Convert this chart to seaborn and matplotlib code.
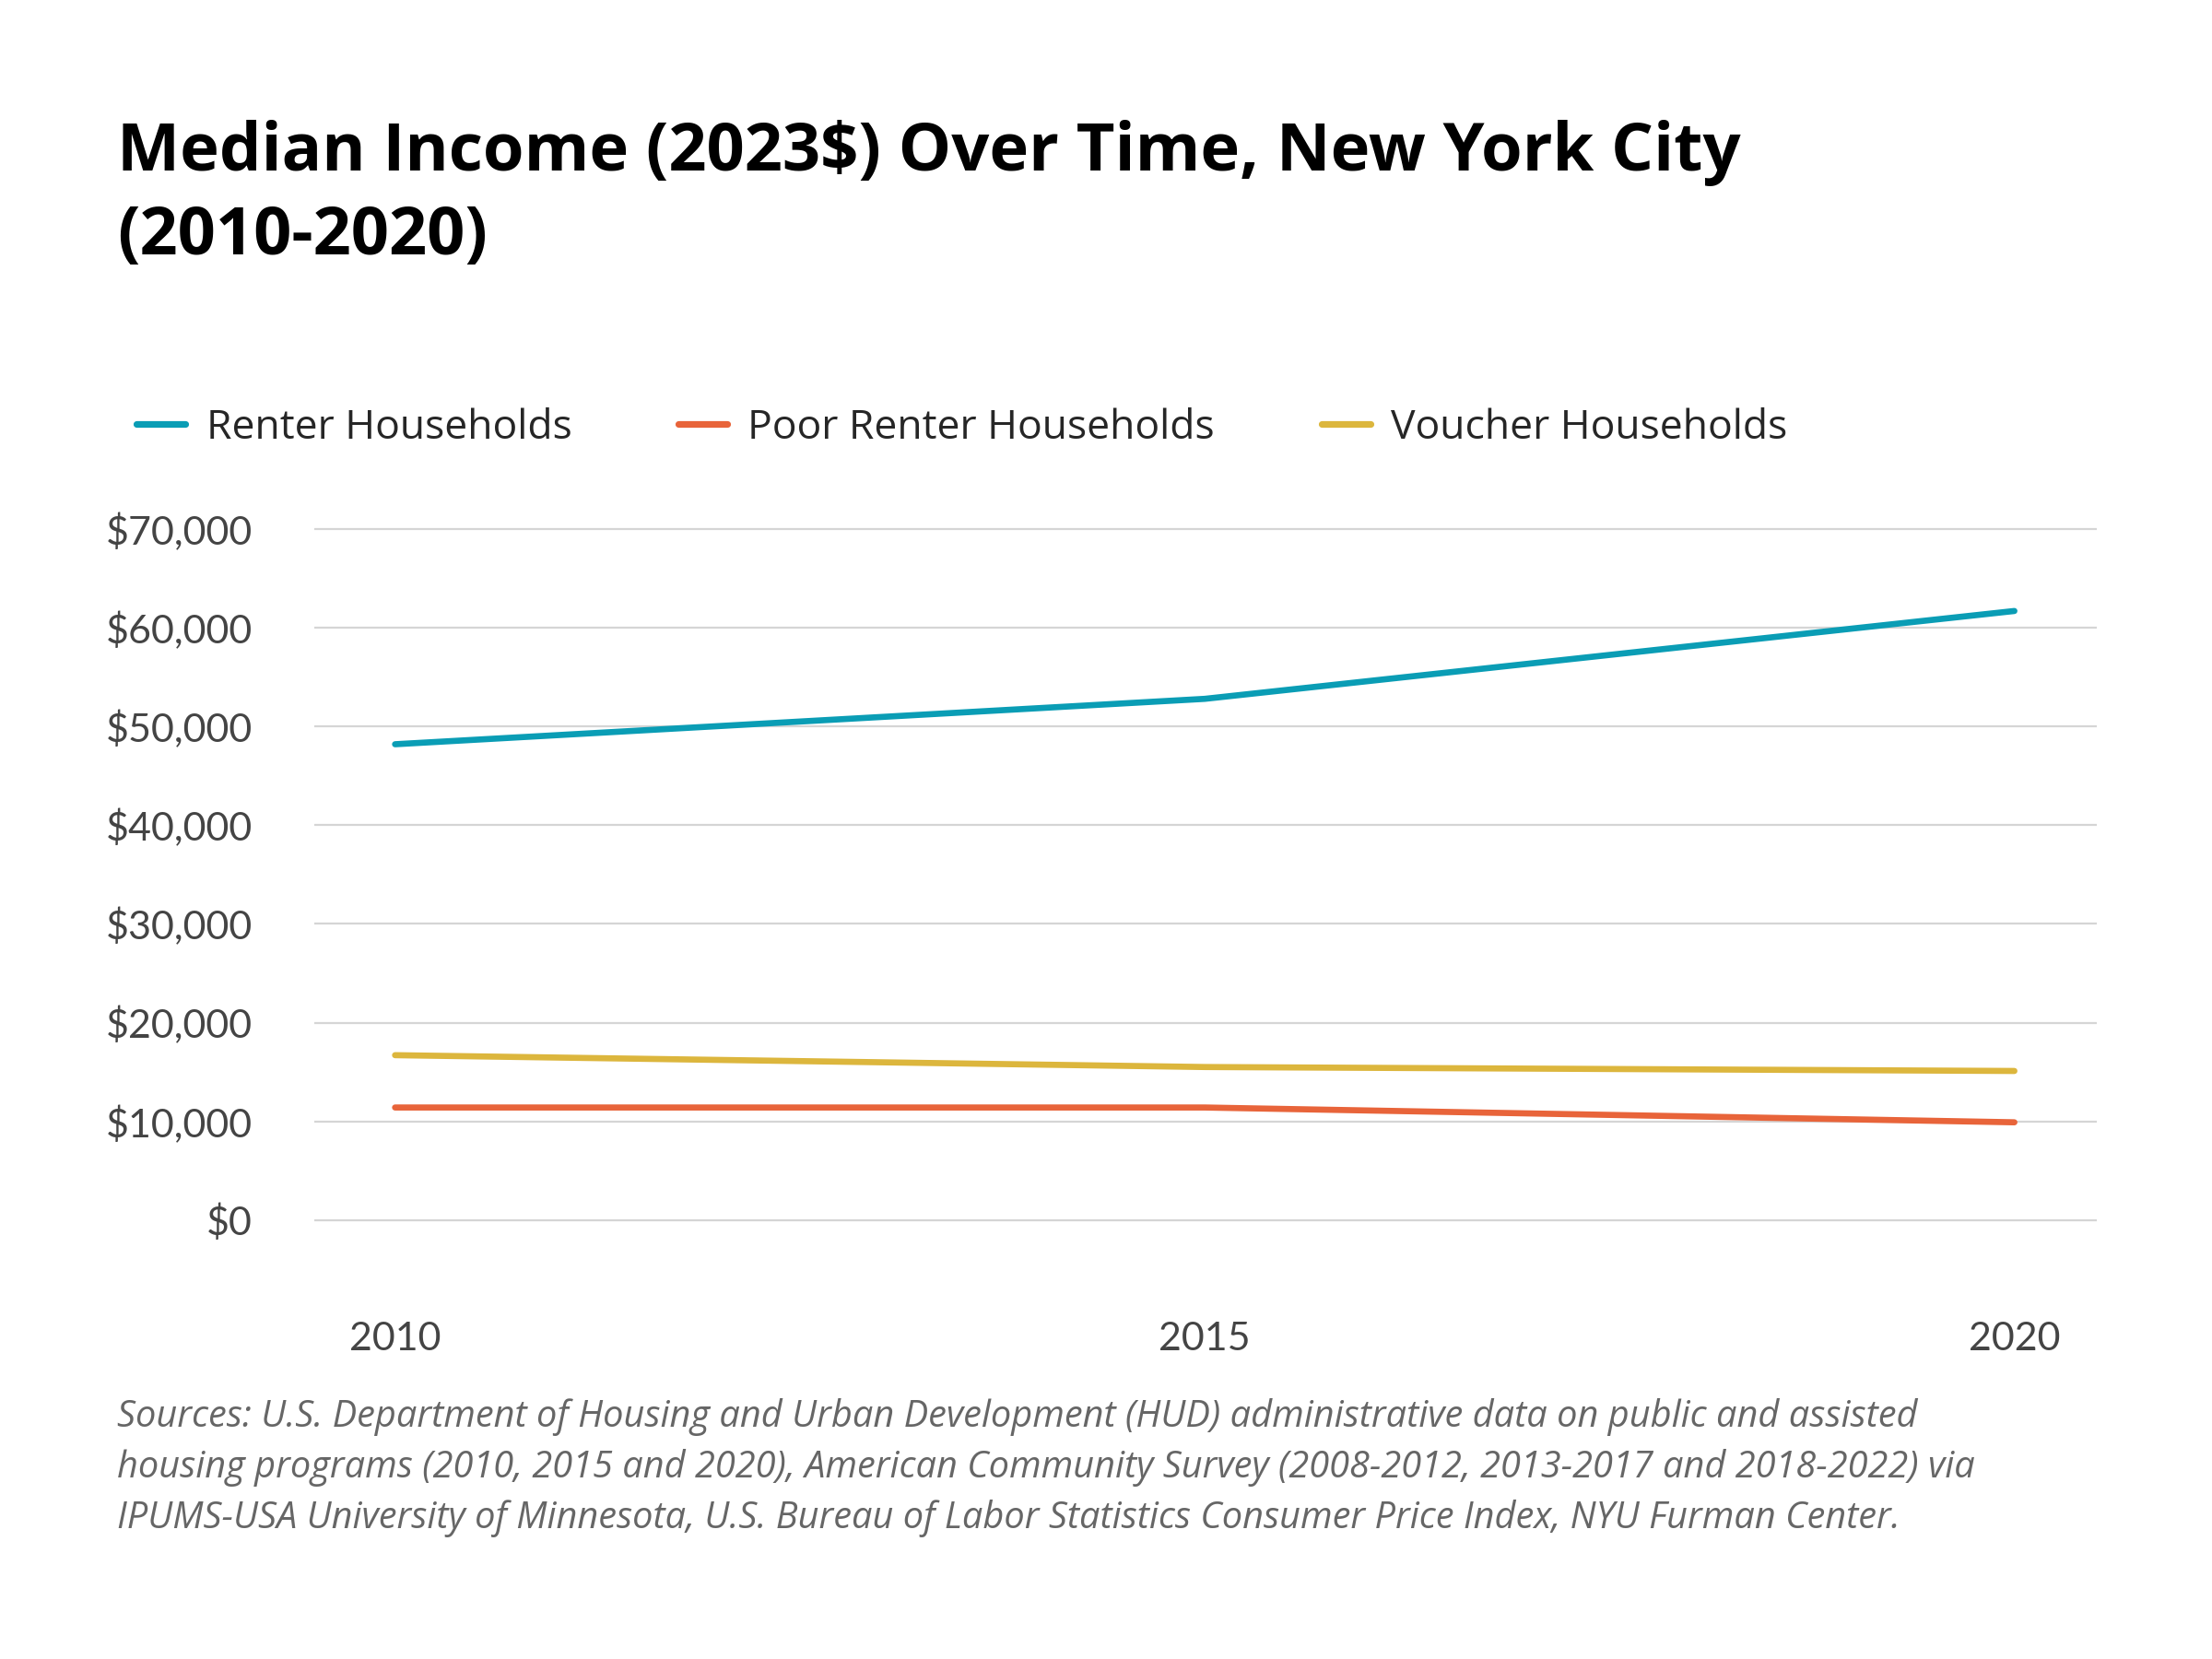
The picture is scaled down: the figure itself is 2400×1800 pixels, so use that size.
import matplotlib
matplotlib.use("Agg")
import matplotlib.pyplot as plt
import seaborn as sns
import pandas as pd
from matplotlib.ticker import FuncFormatter

years = [2010, 2015, 2020]
series_names = ["Renter Households", "Poor Renter Households", "Voucher Households"]
renter = [48200, 52800, 61700]
poor_renter = [11400, 11400, 9900]
voucher = [16700, 15500, 15100]
colors = ["#0a9db5", "#e8643a", "#dcb63d"]

df = pd.DataFrame({
    "year": years * 3,
    "income": renter + poor_renter + voucher,
    "group": sum([[n] * len(years) for n in series_names], []),
})

sns.set_theme(style="white")
plt.rcParams["font.family"] = ["Open Sans", "DejaVu Sans"]

fig = plt.figure(figsize=(12, 9), dpi=200)
ax = fig.add_axes([0.142, 0.234, 0.806, 0.459])
sns.lineplot(data=df, x="year", y="income", hue="group", hue_order=series_names,
             palette=colors, linewidth=2.4, ax=ax, legend=False)

ax.set_xlim(2009.5, 2020.51)
ax.set_ylim(-5143, 72000)
ax.set_yticks(range(0, 70001, 10000))
ax.set_xticks(years)
ax.yaxis.set_major_formatter(FuncFormatter(lambda v, p: f"${v:,.0f}"))
ax.grid(axis="y", color="#d5d5d5", linewidth=0.8)
for s in ax.spines.values():
    s.set_visible(False)
for lab in ax.get_xticklabels() + ax.get_yticklabels():
    lab.set_family(["Lato", "DejaVu Sans"])
ax.tick_params(axis="y", length=0, labelsize=15.5, labelcolor="#444444", pad=24)
ax.tick_params(axis="x", length=0, labelsize=15.5, labelcolor="#444444", pad=20)
ax.set_xlabel("")
ax.set_ylabel("")

fig.text(0.053, 0.928, "Median Income (2023$) Over Time, New York City\n(2010-2020)",
         fontsize=26, fontweight="bold", color="black", va="top", linespacing=1.35)

handles = [plt.Line2D([], [], color=c, linewidth=2.6) for c in colors]
fig.legend(handles, series_names, loc="center left", bbox_to_anchor=(0.045, 0.742),
           ncol=3, frameon=False, fontsize=16, handlelength=1.2, handletextpad=0.5,
           columnspacing=2.6)

fig.text(0.053, 0.157,
         "Sources: U.S. Department of Housing and Urban Development (HUD) administrative data on public and assisted\n"
         "housing programs (2010, 2015 and 2020), American Community Survey (2008-2012, 2013-2017 and 2018-2022) via\n"
         "IPUMS-USA University of Minnesota, U.S. Bureau of Labor Statistics Consumer Price Index, NYU Furman Center.",
         fontsize=14.3, style="italic", color="#666666", va="top", linespacing=1.45)

fig.savefig("out.png", dpi=200, facecolor="white")
